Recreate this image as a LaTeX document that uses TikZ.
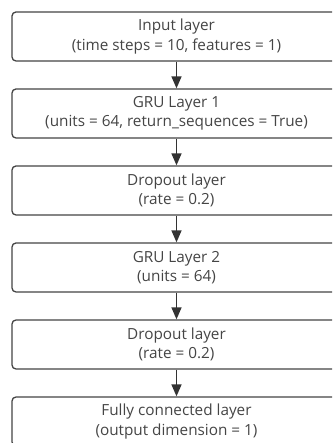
\documentclass[tikz,border=0pt]{standalone}
\usepackage{fontspec}
\setmainfont{Open Sans}
\usetikzlibrary{arrows.meta}
\definecolor{edge}{HTML}{454545}
\definecolor{ink}{HTML}{454545}
\definecolor{arrowc}{HTML}{333333}
\begin{document}
\begin{tikzpicture}[x=1pt,y=1pt,
  layerbox/.style={draw=edge, line width=1.3pt, rounded corners=4pt,
    minimum width=329pt, minimum height=49pt, align=center,
    text=ink, font=\fontsize{15.3}{19.5}\selectfont, inner sep=0pt},
  flow/.style={draw=arrowc, line width=1.4pt,
    -{Triangle[width=10pt,length=12pt]}}]
\useasboundingbox (0,0) rectangle (332,443);
\clip (0,0) rectangle (332,443);
\fill[white] (0,0) rectangle (332,443);
\node[layerbox] (in)   at (176.5,406.5) {Input layer\\(time steps = 10, features = 1)};
\node[layerbox] (gru1) at (176.5,329.5) {GRU Layer 1\\(units = 64, return\_sequences = True)};
\node[layerbox] (do1)  at (176.5,252.5) {Dropout layer\\(rate = 0.2)};
\node[layerbox] (gru2) at (176.5,175.5) {GRU Layer 2\\(units = 64)};
\node[layerbox] (do2)  at (176.5,98.5)  {Dropout layer\\(rate = 0.2)};
\node[layerbox] (fc)   at (176.5,21.5)  {Fully connected layer\\(output dimension = 1)};
\draw[flow] (in) -- (gru1);
\draw[flow] (gru1) -- (do1);
\draw[flow] (do1) -- (gru2);
\draw[flow] (gru2) -- (do2);
\draw[flow] (do2) -- (fc);
\end{tikzpicture}
\end{document}
